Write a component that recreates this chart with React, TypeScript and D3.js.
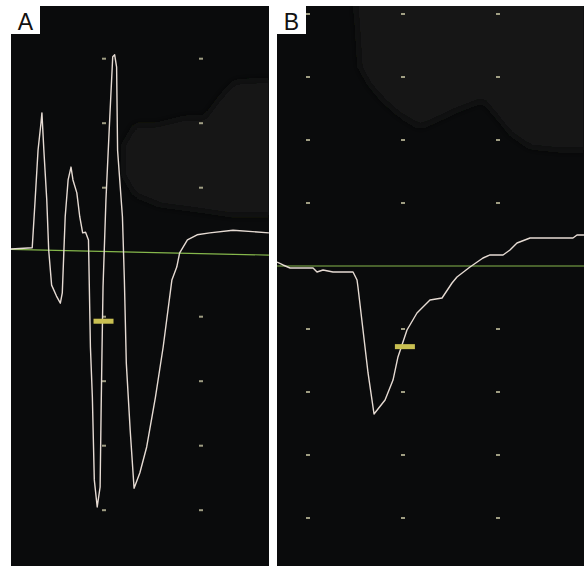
import React from "react";
import * as d3 from "d3";

// Trace values in screen divisions (x: time div, y: amplitude div)
const traceA: [number, number][] = [
  [0.04, 0.05], [0.26, 0.07], [0.29, 0.81], [0.32, 1.58], [0.35, 2.0], [0.36, 2.16],
  [0.38, 1.58], [0.41, 0.81], [0.43, 0.03], [0.46, -0.51], [0.51, -0.68], [0.55, -0.79],
  [0.57, -0.63], [0.6, 0.55], [0.63, 1.12], [0.66, 1.32], [0.68, 1.12], [0.72, 0.92],
  [0.75, 0.55], [0.78, 0.3], [0.81, 0.31], [0.84, 0.19], [0.86, -1.47], [0.88, -2.25],
  [0.9, -3.53], [0.93, -3.95], [0.96, -3.64], [0.97, -2.49], [0.98, -1.47], [0.99, -0.54],
  [1.02, 0.81], [1.06, 2.1], [1.09, 3.03], [1.11, 3.06], [1.13, 2.87], [1.14, 1.58],
  [1.19, 0.55], [1.21, -0.43], [1.23, -1.72], [1.27, -2.76], [1.31, -3.66], [1.37, -3.42],
  [1.44, -3.02], [1.53, -2.25], [1.61, -1.47], [1.7, -0.43], [1.75, -0.23], [1.78, -0.01],
  [1.86, 0.19], [1.96, 0.27], [2.09, 0.3], [2.33, 0.34], [2.7, 0.3],
];

const traceB: [number, number][] = [
  [0.674, 0.063], [0.737, 0.016], [0.811, -0.032], [1.053, -0.032], [1.095, -0.095],
  [1.158, -0.063], [1.263, -0.095], [1.474, -0.095], [1.516, -0.222], [1.526, -0.333],
  [1.579, -1.016], [1.632, -1.698], [1.695, -2.349], [1.811, -2.127], [1.895, -1.81],
  [1.947, -1.444], [2.042, -1.016], [2.147, -0.746], [2.284, -0.54], [2.411, -0.508],
  [2.516, -0.27], [2.568, -0.175], [2.705, -0.016], [2.842, 0.127], [2.916, 0.175],
  [3.053, 0.175], [3.126, 0.254], [3.2, 0.365], [3.337, 0.444], [3.789, 0.444],
  [3.832, 0.492], [3.905, 0.492],
];

const baselineA: [number, number][] = [[0.04, 0.045], [2.7, -0.045]];
const baselineB: [number, number][] = [[0.674, 0], [3.905, 0]];

const markerA: [number, number] = [0.995, -1.07];
const markerB: [number, number] = [2.02, -1.28];

const gridColsA = [1, 2];
const gridRowsA = [3, 2, 1, -1, -2, -3, -4];
const gridColsB = [1, 2, 3];
const gridRowsB = [4, 3, 2, 1, -1, -2, -3, -4];

const cloudA: [number, number][] = [
  [1.2, 1.66], [1.32, 1.97], [1.53, 1.97], [1.84, 2.08], [2.04, 2.08], [2.22, 2.44],
  [2.35, 2.64], [2.72, 2.67], [2.72, 0.58], [2.3, 0.58], [1.99, 0.65], [1.58, 0.73],
  [1.32, 0.89], [1.2, 1.2],
];
const cloudB: [number, number][] = [
  [1.495, 4.2], [1.516, 3.905], [1.547, 3.159], [1.653, 2.873], [1.789, 2.635],
  [1.968, 2.397], [2.179, 2.206], [2.389, 2.349], [2.568, 2.476], [2.842, 2.635],
  [3.021, 2.317], [3.126, 2.111], [3.337, 1.889], [3.653, 1.841], [3.92, 1.841], [3.92, 4.2],
];

const labels = ["A", "B"];

type Panel = {
  label: string;
  left: number;
  right: number;
  x: d3.ScaleLinear<number, number>;
  y: d3.ScaleLinear<number, number>;
  trace: [number, number][];
  baseline: [number, number][];
  marker: [number, number];
  cols: number[];
  rows: number[];
  cloud: [number, number][];
};

const TOP = 6;
const BOTTOM = 566;

const panels: Panel[] = [
  {
    label: labels[0],
    left: 11,
    right: 269,
    x: d3.scaleLinear().domain([0, 1]).range([7, 104]),
    y: d3.scaleLinear().domain([0, 1]).range([252.2, 187.7]),
    trace: traceA,
    baseline: baselineA,
    marker: markerA,
    cols: gridColsA,
    rows: gridRowsA,
    cloud: cloudA,
  },
  {
    label: labels[1],
    left: 277,
    right: 584,
    x: d3.scaleLinear().domain([0, 1]).range([213, 308]),
    y: d3.scaleLinear().domain([0, 1]).range([266, 203]),
    trace: traceB,
    baseline: baselineB,
    marker: markerB,
    cols: gridColsB,
    rows: gridRowsB,
    cloud: cloudB,
  },
];

export default function App() {
  return (
    <svg
      width={585}
      height={566}
      style={{ position: "absolute", left: 0, top: 0, display: "block", background: "#ffffff" }}
    >
      <defs>
        <filter id="blur" x="-20%" y="-20%" width="140%" height="140%">
          <feGaussianBlur stdDeviation="4" />
        </filter>
        {panels.map((p, i) => (
          <clipPath id={`clip${i}`} key={i}>
            <rect x={p.left} y={TOP} width={p.right - p.left} height={BOTTOM - TOP} />
          </clipPath>
        ))}
      </defs>
      {panels.map((p, i) => {
        const line = d3
          .line<[number, number]>()
          .x((d) => p.x(d[0]))
          .y((d) => p.y(d[1]));
        const cloudPath = d3
          .line<[number, number]>()
          .x((d) => p.x(d[0]))
          .y((d) => p.y(d[1]))
          .curve(d3.curveLinearClosed);
        return (
          <g key={i}>
            <rect x={p.left} y={TOP} width={p.right - p.left} height={BOTTOM - TOP} fill="#0a0b0c" />
            <g clipPath={`url(#clip${i})`}>
              <path d={cloudPath(p.cloud) || ""} fill="#171816" filter="url(#blur)" />
              {p.cols.map((c) =>
                p.rows.map((r) => (
                  <rect
                    key={`${c}_${r}`}
                    x={p.x(c) - 2}
                    y={p.y(r) - 1}
                    width={4}
                    height={2}
                    fill="#c4c2a0"
                    opacity={0.8}
                  />
                ))
              )}
              <path d={line(p.baseline) || ""} stroke="#86b84c" strokeWidth={1.2} fill="none" />
              <path
                d={line(p.trace) || ""}
                stroke="#e6dbd3"
                strokeWidth={1.4}
                fill="none"
                strokeLinejoin="round"
              />
              <rect
                x={p.x(p.marker[0]) - 10}
                y={p.y(p.marker[1]) - 2.5}
                width={20}
                height={5}
                fill="#c9c052"
              />
            </g>
            <rect x={p.left} y={TOP} width={29} height={28} fill="#ffffff" />
            <text
              x={p.left + 14.5}
              y={TOP + 24}
              textAnchor="middle"
              fontFamily="Liberation Sans, Arial, sans-serif"
              fontSize={23}
              fill="#111"
            >
              {p.label}
            </text>
          </g>
        );
      })}
    </svg>
  );
}
